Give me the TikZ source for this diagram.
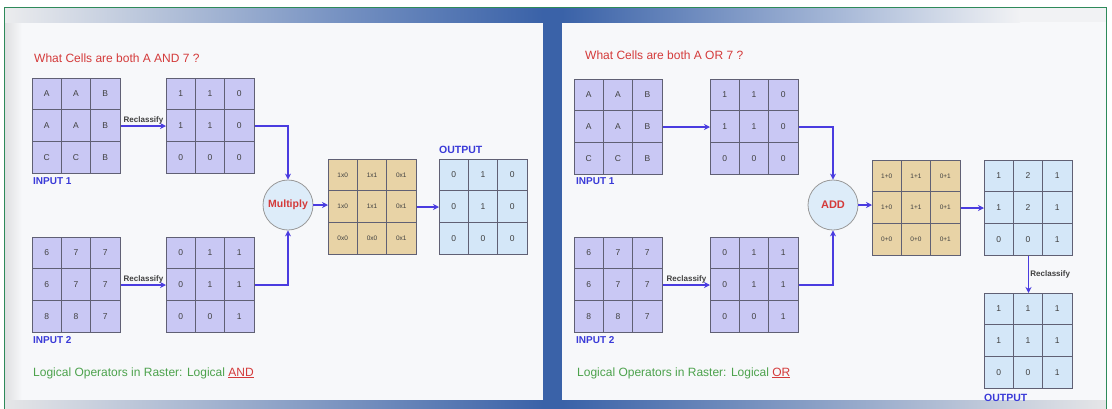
\documentclass[tikz,border=0pt]{standalone}
\usepackage{fontspec}
\setmainfont{Liberation Sans}
\usetikzlibrary{arrows.meta,calc}
\definecolor{lav}{HTML}{C9C8F4}
\definecolor{tanc}{HTML}{E8D3A6}
\definecolor{lblue}{HTML}{D4E7F8}
\definecolor{bandblue}{HTML}{3A62A8}
\definecolor{framegreen}{HTML}{2E8A5A}
\definecolor{arrowblue}{HTML}{4A3CE0}
\definecolor{titlered}{HTML}{D43A3A}
\definecolor{labgreen}{HTML}{4CA24C}
\definecolor{inblue}{HTML}{3A3AD8}
\definecolor{panelbg}{HTML}{F7F8FA}
\definecolor{gridc}{HTML}{606074}
\tikzset{
  gridbox/.style={draw=gridc, line width=1pt, minimum width=88pt, minimum height=95pt, inner sep=0pt},
  cellbox/.style={draw=gridc, line width=0.9pt, minimum width=29.33pt, minimum height=31.67pt, inner sep=0pt,
    text=black!75, font=\fontsize{8.5}{9}\selectfont},
  tancell/.style={cellbox, font=\fontsize{6.5}{7}\selectfont},
  conn/.style={draw=arrowblue, line width=1.8pt, -{Stealth[length=6pt,width=6pt]}},
  rlab/.style={font=\bfseries\fontsize{8}{9}\selectfont, text=black!75, inner sep=1pt},
  iolab/.style={font=\bfseries\fontsize{10}{11}\selectfont, text=inblue, inner sep=0pt, anchor=west},
  title/.style={font=\fontsize{12}{13}\selectfont, text=titlered, inner sep=0pt, anchor=west},
  foot/.style={font=\fontsize{12}{13}\selectfont, text=labgreen, inner sep=0pt, anchor=west},
  opcirc/.style={circle, draw=gray!80, line width=0.8pt, fill=lblue!80!white, minimum size=50pt, inner sep=0pt,
    text=titlered, font=\bfseries\fontsize{10.5}{11}\selectfont},
}
% name, left x, top y, fill, cell style, 9 entries
\newcommand\mkgrid[6]{%
  \node[gridbox, fill=#4, anchor=north west] (#1) at (#2,#3) {};
  \foreach \v [count=\i from 0] in {#6} {%
    \pgfmathtruncatemacro\gr{\i/3}%
    \pgfmathtruncatemacro\gcol{mod(\i,3)}%
    \node[#5, fill=#4] (#1-\gr-\gcol) at ($(#1.north west)+(\gcol*29.33+14.67,\gr*31.67+15.83)$) {\v};
  }%
}
\begin{document}
\begin{tikzpicture}[x=1pt,y=-1pt]
\useasboundingbox (0,0) rectangle (1112,408);
% background
\fill[white] (0,0) rectangle (1112,408);
\fill[panelbg] (5,8) rectangle (1106,410);
\shade[left color=panelbg!80!gray, right color=panelbg] (5,22) rectangle (22,400);
\shade[left color=panelbg!90!gray, right color=bandblue!70!panelbg] (5,8) rectangle (350,22);
\shade[left color=bandblue!70!panelbg, right color=bandblue] (350,8) rectangle (543,22);
\shade[left color=bandblue, right color=bandblue!40!panelbg] (562,8) rectangle (850,22);
\shade[left color=bandblue!40!panelbg, right color=panelbg!95!gray] (850,8) rectangle (1020,22);
\fill[panelbg!95!gray] (1020,8) rectangle (1106,22);
\shade[left color=panelbg!85!gray, right color=bandblue] (5,400) rectangle (543,410);
\shade[left color=bandblue, right color=panelbg!85!gray] (562,400) rectangle (1106,410);
\fill[bandblue] (543,8) rectangle (562,410);
\draw[framegreen, line width=1pt] (4.5,410) -- (4.5,7.5) -- (1106.5,7.5) -- (1106.5,410);

% ===== left panel =====
\node[title] (t1) at (34,58) {What Cells are both A AND 7 ?};
\mkgrid{in1}{32}{78}{lav}{cellbox}{A,A,B,A,A,B,C,C,B}
\mkgrid{rc1}{166}{78}{lav}{cellbox}{1,1,0,1,1,0,0,0,0}
\mkgrid{in2}{32}{237}{lav}{cellbox}{6,7,7,6,7,7,8,8,7}
\mkgrid{rc2}{166}{237}{lav}{cellbox}{0,1,1,0,1,1,0,0,1}
\mkgrid{tan1}{328}{159}{tanc}{tancell}{1x0,1x1,0x1,1x0,1x1,0x1,0x0,0x0,0x1}
\mkgrid{out1}{439}{159}{lblue}{cellbox}{0,1,0,0,1,0,0,0,0}
\node[iolab] (in1lab) at (33,181) {INPUT 1};
\node[iolab] (in2lab) at (33,340) {INPUT 2};
\node[iolab, font=\bfseries\fontsize{10.5}{11}\selectfont] (out1lab) at (439,150) {OUTPUT};
\node[opcirc] (mul) at (288,205) {Multiply};
\draw[conn] (in1) -- node[rlab, above] (lab1) {Reclassify} (rc1);
\draw[conn] (in2) -- node[rlab, above] (lab2) {Reclassify} (rc2);
\draw[conn] (rc1.east) -| (mul.north);
\draw[conn] (rc2.east) -| (mul.south);
\draw[conn] (mul.east) -- (tan1.west |- mul.east);
\draw[conn] (tan1) -- (out1);
\node[foot] (f1) at (33,373) {Logical Operators in Raster: Logical \textcolor{titlered}{\underline{AND}}};

% ===== right panel =====
\node[title] (t2) at (585,55) {What Cells are both A OR 7 ?};
\mkgrid{in1R}{574}{79}{lav}{cellbox}{A,A,B,A,A,B,C,C,B}
\mkgrid{rc1R}{710}{79}{lav}{cellbox}{1,1,0,1,1,0,0,0,0}
\mkgrid{in2R}{574}{237}{lav}{cellbox}{6,7,7,6,7,7,8,8,7}
\mkgrid{rc2R}{710}{237}{lav}{cellbox}{0,1,1,0,1,1,0,0,1}
\mkgrid{tan2}{872}{160}{tanc}{tancell}{1+0,1+1,0+1,1+0,1+1,0+1,0+0,0+0,0+1}
\mkgrid{out2}{984}{160}{lblue}{cellbox}{1,2,1,1,2,1,0,0,1}
\mkgrid{out3}{984}{293}{lblue}{cellbox}{1,1,1,1,1,1,0,0,1}
\node[iolab] (in1Rlab) at (576,181) {INPUT 1};
\node[iolab] (in2Rlab) at (576,340) {INPUT 2};
\node[iolab, font=\bfseries\fontsize{10.5}{11}\selectfont] (out3lab) at (984,398) {OUTPUT};
\node[opcirc, font=\bfseries\fontsize{11}{12}\selectfont] (add) at (833,205) {ADD};
\draw[conn] (in1R) -- (rc1R);
\draw[conn] (in2R) -- node[rlab, above] (lab3) {Reclassify} (rc2R);
\draw[conn] (rc1R.east) -| (add.north);
\draw[conn] (rc2R.east) -| (add.south);
\draw[conn] (add.east) -- (tan2.west |- add.east);
\draw[conn] (tan2) -- (out2);
\draw[conn] (out2) -- node[rlab, right] (lab4) {Reclassify} (out3);
\node[foot] (f2) at (577,373) {Logical Operators in Raster: Logical \textcolor{titlered}{\underline{OR}}};
\end{tikzpicture}
\end{document}
